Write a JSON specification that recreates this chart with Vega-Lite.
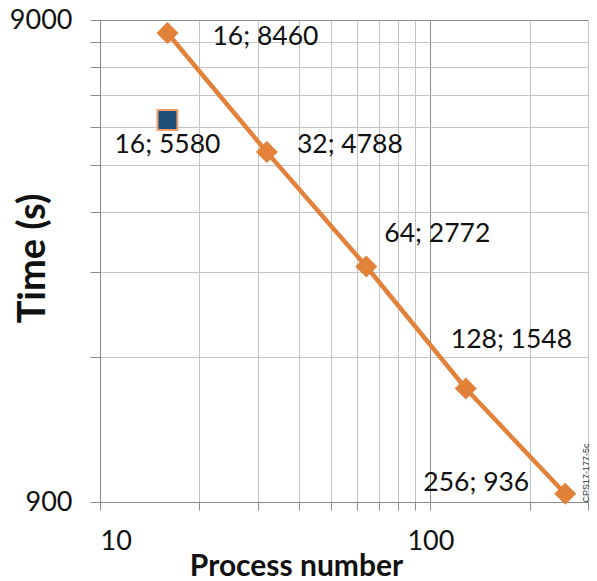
{
  "$schema": "https://vega.github.io/schema/vega-lite/v6.json",
  "autosize": "none",
  "width": 488,
  "height": 482,
  "padding": {"left": 100, "top": 20, "right": 9, "bottom": 79},
  "background": "white",
  "config": {"view": {"stroke": null}, "font": "Lato"},
  "data": {
    "values": [
      {"series": "A", "processes": 16, "time": 8460, "label": "16; 8460"},
      {"series": "A", "processes": 32, "time": 4788, "label": "32; 4788"},
      {"series": "A", "processes": 64, "time": 2772, "label": "64; 2772"},
      {"series": "A", "processes": 128, "time": 1548, "label": "128; 1548"},
      {"series": "A", "processes": 256, "time": 936, "label": "256; 936"},
      {"series": "B", "processes": 16, "time": 5580, "label": "16; 5580"}
    ]
  },
  "resolve": {"axis": {"y": "independent"}},
  "layer": [
    {
      "transform": [{"filter": "datum.series == 'A'"}],
      "mark": {"type": "line", "color": "#E2823A", "strokeWidth": 4.5},
      "encoding": {
        "x": {
          "field": "processes", "type": "quantitative",
          "scale": {"type": "log", "domain": [10, 300], "nice": false},
          "axis": {
            "values": [10, 20, 30, 40, 50, 60, 70, 80, 90, 100, 200, 300],
            "labelExpr": "datum.value == 10 || datum.value == 100 ? datum.label : ''",
            "format": "d",
            "grid": true,
            "gridColor": {"condition": {"test": "datum.value == 10 || datum.value == 100", "value": "#8c8c8c"}, "value": "#c4c4c4"},
            "gridWidth": 1,
            "domainColor": "#8c8c8c",
            "tickColor": "#8c8c8c",
            "tickSize": 8,
            "labelFontSize": 27,
            "labelColor": "#111",
            "labelPadding": 18,
            "labelFont": "Lato",
            "title": "Process number",
            "titleFont": "Lato",
            "titleFontSize": 30,
            "titleFontWeight": "bold",
            "titleColor": "#111",
            "titleBaseline": "alphabetic",
            "titleAlign": "center",
            "titleX": 196,
            "titleY": 73
          }
        },
        "y": {
          "field": "time", "type": "quantitative",
          "scale": {"type": "log", "domain": [900, 9000], "nice": false},
          "axis": {
            "orient": "left",
            "values": [900, 1800, 2700, 3600, 4500, 5400, 6300, 7200, 8100, 9000],
            "labelExpr": "datum.value == 900 || datum.value == 9000 ? datum.label : ''",
            "format": "d",
            "grid": true,
            "gridColor": {"condition": {"test": "datum.value == 900 || datum.value == 9000", "value": "#8c8c8c"}, "value": "#c4c4c4"},
            "gridWidth": 1,
            "domainColor": "#8c8c8c",
            "tickColor": "#8c8c8c",
            "tickSize": 10,
            "labelFontSize": 27,
            "labelColor": "#111",
            "labelPadding": 18,
            "labelFont": "Lato",
            "title": "Time (s)",
            "titleFont": "Lato",
            "titleFontSize": 38,
            "titleFontWeight": "bold",
            "titleColor": "#111",
            "titleAngle": -90,
            "titleBaseline": "middle",
            "titleAlign": "center",
            "titleX": -67,
            "titleY": 238
          }
        }
      }
    },
    {
      "transform": [{"filter": "datum.series == 'A'"}],
      "mark": {"type": "point", "shape": "diamond", "filled": true, "size": 484, "color": "#E2823A", "opacity": 1},
      "encoding": {
        "x": {"field": "processes", "type": "quantitative"},
        "y": {"field": "time", "type": "quantitative", "axis": null}
      }
    },
    {
      "transform": [{"filter": "datum.series == 'B'"}],
      "mark": {"type": "point", "shape": "square", "filled": true, "size": 400, "fill": "#1F4E79", "stroke": "#F0A070", "strokeWidth": 2, "opacity": 1},
      "encoding": {
        "x": {"field": "processes", "type": "quantitative"},
        "y": {
          "field": "time", "type": "quantitative",
          "axis": {
            "orient": "right",
            "labels": false, "ticks": false, "domain": false, "grid": false,
            "title": "CPS17-177-5c",
            "titleFontSize": 9,
            "titleFont": "Liberation Sans",
            "titleFontWeight": "normal",
            "titleColor": "#333",
            "titleAngle": 270,
            "titleAnchor": "start",
            "titlePadding": 2
          }
        }
      }
    },
    {
      "transform": [{"filter": "datum.label == '16; 8460'"}],
      "mark": {"type": "text", "align": "left", "baseline": "middle", "dx": 45, "dy": 4, "fontSize": 26.5, "font": "Lato", "color": "#111"},
      "encoding": {"x": {"field": "processes", "type": "quantitative"}, "y": {"field": "time", "type": "quantitative", "axis": null}, "text": {"field": "label"}}
    },
    {
      "transform": [{"filter": "datum.label == '32; 4788'"}],
      "mark": {"type": "text", "align": "left", "baseline": "middle", "dx": 30, "dy": -7, "fontSize": 26.5, "font": "Lato", "color": "#111"},
      "encoding": {"x": {"field": "processes", "type": "quantitative"}, "y": {"field": "time", "type": "quantitative", "axis": null}, "text": {"field": "label"}}
    },
    {
      "transform": [{"filter": "datum.label == '64; 2772'"}],
      "mark": {"type": "text", "align": "left", "baseline": "middle", "dx": 18, "dy": -33, "fontSize": 26.5, "font": "Lato", "color": "#111"},
      "encoding": {"x": {"field": "processes", "type": "quantitative"}, "y": {"field": "time", "type": "quantitative", "axis": null}, "text": {"field": "label"}}
    },
    {
      "transform": [{"filter": "datum.label == '128; 1548'"}],
      "mark": {"type": "text", "align": "left", "baseline": "middle", "dx": -15, "dy": -48, "fontSize": 26.5, "font": "Lato", "color": "#111"},
      "encoding": {"x": {"field": "processes", "type": "quantitative"}, "y": {"field": "time", "type": "quantitative", "axis": null}, "text": {"field": "label"}}
    },
    {
      "transform": [{"filter": "datum.label == '256; 936'"}],
      "mark": {"type": "text", "align": "right", "baseline": "middle", "dx": -36, "dy": -11, "fontSize": 26.5, "font": "Lato", "color": "#111"},
      "encoding": {"x": {"field": "processes", "type": "quantitative"}, "y": {"field": "time", "type": "quantitative", "axis": null}, "text": {"field": "label"}}
    },
    {
      "transform": [{"filter": "datum.label == '16; 5580'"}],
      "mark": {"type": "text", "align": "left", "baseline": "middle", "dx": -53, "dy": 25, "fontSize": 26.5, "font": "Lato", "color": "#111"},
      "encoding": {"x": {"field": "processes", "type": "quantitative"}, "y": {"field": "time", "type": "quantitative", "axis": null}, "text": {"field": "label"}}
    }
  ]
}
